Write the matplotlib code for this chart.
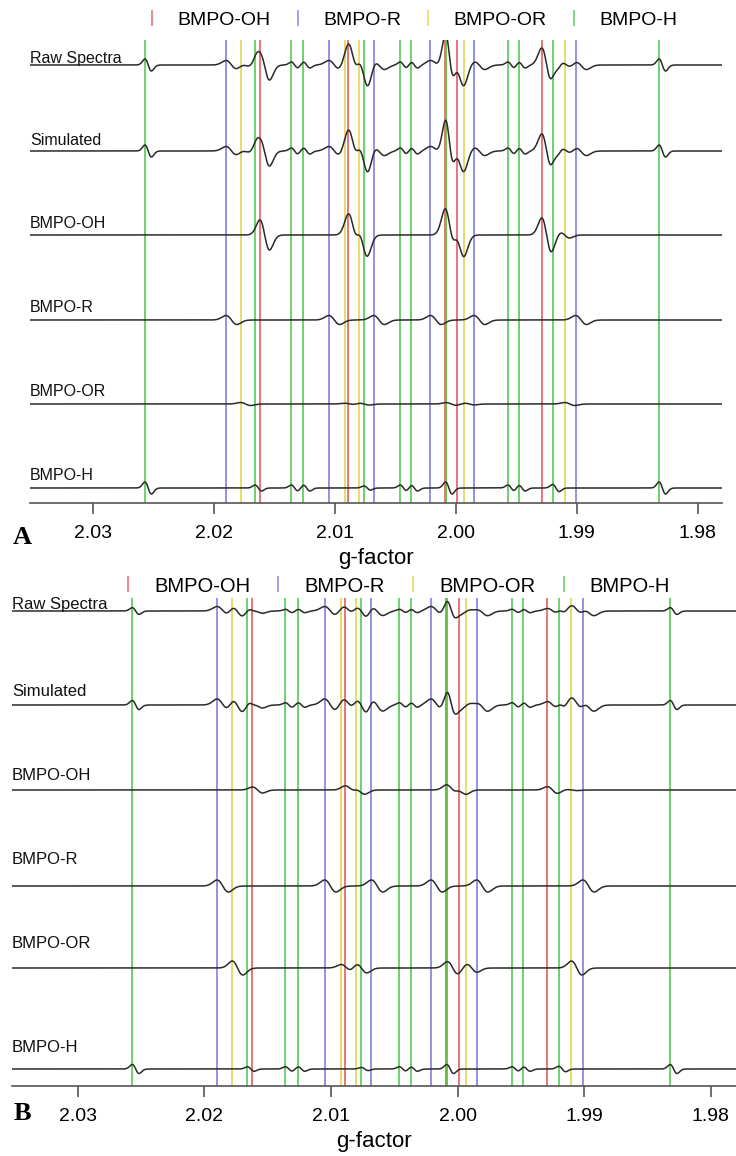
import numpy as np
import matplotlib.pyplot as plt
from matplotlib.lines import Line2D

plt.rcParams['font.family'] = ['Liberation Sans', 'DejaVu Sans']

species = ['BMPO-OH', 'BMPO-R', 'BMPO-OR', 'BMPO-H']
row_names = ['Raw Spectra', 'Simulated', 'BMPO-OH', 'BMPO-R', 'BMPO-OR', 'BMPO-H']
g_ticks = [2.03, 2.02, 2.01, 2.00, 1.99, 1.98]

# g-factor of the marker lines (one list per adduct)
oh_marks = [2.0162, 2.0089, 2.0009, 1.9999, 1.9929]
r_marks = [2.0190, 2.0105, 2.0068, 2.0021, 1.9985, 1.9901]
or_marks = [2.0178, 2.0092, 2.0080, 2.0008, 1.9993, 1.9910]
h_marks = [2.0257, 2.0166, 2.0136, 2.0126, 2.0076, 2.0046, 2.0037, 2.00085,
           1.9957, 1.9948, 1.9920, 1.9832]

# hyperfine lines used for each simulated component (position, relative height)
oh_lines = [2.0162, 2.0089, 2.0081, 2.0009, 2.0001, 1.9929, 1.9914]
oh_rel = [0.75, 1.0, 1.0, 1.25, 1.0, 0.85, 0.15]
r_rel = [1.0, 1.0, 1.0, 1.0, 1.0, 1.0]
or_rel = [1.0, 0.5, 0.7, 0.9, 0.6, 1.0]
h_rel = [1.0, 0.5, 0.5, 0.5, 0.35, 0.5, 0.5, 1.0, 0.5, 0.5, 0.6, 1.0]

# peak height of each component in panel A and panel B
scale_a = [20, 4.5, 1.5, 6]
scale_b = [4, 6, 7, 4.5]
raw_gain = [1.0, 0.75]

line_width = [0.0004, 0.00045, 0.00042, 0.00027]
colors = ['#e04848', '#6f6fe0', '#dcd238', '#3cc43c']

g = np.linspace(2.0355, 1.978, 3000)


def deriv(g0, w):
    # first-derivative line shape with its positive peak at g0
    u = (g - (g0 - w)) / w
    return u * np.exp(0.5 * (1 - u ** 2))


def component(lines, rel, w):
    y = np.zeros_like(g)
    for g0, a in zip(lines, rel):
        y += a * deriv(g0, w)
    return y


comp_lines = [oh_lines, r_marks, or_marks, h_marks]
comp_rel = [oh_rel, r_rel, or_rel, h_rel]
comp_shapes = [component(l, r, w) for l, r, w in zip(comp_lines, comp_rel, line_width)]
marks = [oh_marks, r_marks, or_marks, h_marks]


def panel(ax, scales, gain, base, label_y, fs):
    comps = [s * c for s, c in zip(scales, comp_shapes)]
    sim = sum(comps)
    curves = [gain * sim, sim] + comps
    for m, c in zip(marks, colors):
        for x in m:
            ax.axvline(x, color=c, lw=1.4, alpha=0.75, zorder=1)
    for y, b in zip(curves, base):
        ax.plot(g, y + b, color='#2a2a2a', lw=1.1, zorder=3)
    for name, ly in zip(row_names, label_y):
        ax.text(0.0, ly, name, transform=ax.get_yaxis_transform(),
                fontsize=fs, ha='left', va='baseline', color='#111', zorder=4)
    ax.set_xlim(2.0352, 1.978)
    ax.set_xticks(g_ticks)
    ax.set_xticklabels(['%.2f' % t for t in g_ticks])
    ax.set_yticks([])
    for s in ['top', 'left', 'right']:
        ax.spines[s].set_visible(False)
    ax.spines['bottom'].set_color('#555')
    ax.spines['bottom'].set_linewidth(1.2)
    ax.tick_params(axis='x', direction='out', length=8, width=1.2,
                   color='#555', labelsize=14, pad=8)
    ax.set_xlabel('g-factor', fontsize=16, labelpad=4)


fig = plt.figure(figsize=(7.36, 11.56), dpi=100)

axA = fig.add_axes([30 / 736, 1 - 503 / 1156, 692 / 736, 463 / 1156])
axA.set_ylim(0, 463)
panel(axA, scale_a, raw_gain[0], [438, 352, 268, 183, 99, 15],
      [440, 358, 275, 191, 107, 23], 11.5)

axB = fig.add_axes([12 / 736, 1 - 1086 / 1156, 724 / 736, 488 / 1156])
axB.set_ylim(0, 488)
panel(axB, scale_b, raw_gain[1], [475, 381, 296, 200, 118, 17],
      [477, 390, 306, 222, 138, 34], 12)

handles = [Line2D([], [], color=c, marker='|', linestyle='None', markersize=12,
                  markeredgewidth=1.2, alpha=0.75) for c in colors]
fig.legend(handles, species, loc='center', bbox_to_anchor=(410 / 736, 1 - 20 / 1156),
           ncol=4, frameon=False, fontsize=14, handlelength=1.0,
           handletextpad=0.8, columnspacing=0.9)
fig.legend(handles, species, loc='center', bbox_to_anchor=(394 / 736, 1 - 586 / 1156),
           ncol=4, frameon=False, fontsize=14.5, handlelength=1.0,
           handletextpad=0.8, columnspacing=0.9)

fig.text(22 / 736, 1 - 537 / 1156, 'A', fontsize=19, fontweight='bold',
         family='Liberation Serif', ha='center', va='center')
fig.text(22 / 736, 1 - 1113 / 1156, 'B', fontsize=19, fontweight='bold',
         family='Liberation Serif', ha='center', va='center')

fig.savefig('out.png', dpi=100)
